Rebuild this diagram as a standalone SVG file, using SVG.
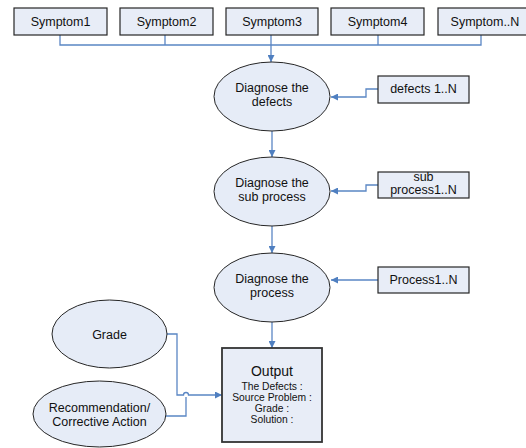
<svg xmlns="http://www.w3.org/2000/svg" width="526" height="448" viewBox="0 0 526 448">
<defs>
<marker id="arr" viewBox="0 0 10 10" refX="10" refY="5" markerWidth="7" markerHeight="7" markerUnits="userSpaceOnUse" orient="auto">
<path d="M0,0 L10,5 L0,10 z" fill="#4F7FC0"/>
</marker>
<style>
.box{fill:#E8EDF7;stroke:#262626;stroke-width:1.2}
.ell{fill:#E6ECF7;stroke:#262626;stroke-width:1}
.out{fill:#E8EDF7;stroke:#333;stroke-width:1.8}
.t{font-family:"Liberation Sans",Arial,sans-serif;font-size:12.5px;fill:#111;text-anchor:middle}
.s{font-family:"Liberation Sans",Arial,sans-serif;font-size:10.3px;fill:#111;text-anchor:middle}
.o{font-family:"Liberation Sans",Arial,sans-serif;font-size:14px;fill:#111;text-anchor:middle}
.c{fill:none;stroke:#5A86C4;stroke-width:1.3}
</style>
</defs>
<rect width="526" height="448" fill="#fff"/>
<g id="connectors">
<path class="c" d="M60,35 V45 H481 V35 M165,35 V45 M378,35 V45"/>
<path class="c" d="M271,35 V62" marker-end="url(#arr)"/>
<path class="c" d="M272,131 V157" marker-end="url(#arr)"/>
<path class="c" d="M272,226 V253" marker-end="url(#arr)"/>
<path class="c" d="M272,322 V348" marker-end="url(#arr)"/>
<path class="c" d="M378,89 H366 V97 H331" marker-end="url(#arr)"/>
<path class="c" d="M378,185 H366 V191 H331" marker-end="url(#arr)"/>
<path class="c" d="M378,280 H331" marker-end="url(#arr)"/>
<path class="c" d="M166,334 H177 V395 H183.5 A2.5,2.5 0 0 1 188.5,395 H222" marker-end="url(#arr)"/>
<path class="c" d="M166,416 H186 V397"/>
</g>
<g id="symptom1"><rect class="box" x="14" y="8" width="93" height="27"/><text class="t" x="60.5" y="25.5">Symptom1</text></g>
<g id="symptom2"><rect class="box" x="120" y="8" width="93" height="27"/><text class="t" x="166.5" y="25.5">Symptom2</text></g>
<g id="symptom3"><rect class="box" x="226" y="8" width="92" height="27"/><text class="t" x="272" y="25.5">Symptom3</text></g>
<g id="symptom4"><rect class="box" x="331" y="8" width="93" height="27"/><text class="t" x="377.5" y="25.5">Symptom4</text></g>
<g id="symptomN"><rect class="box" x="438" y="8" width="94" height="27"/><text class="t" x="485" y="25.5">Symptom..N</text></g>
<g id="diag-defects"><ellipse class="ell" cx="272" cy="96.5" rx="58" ry="34.5"/><text class="t" x="272" y="92">Diagnose the</text><text class="t" x="272" y="106">defects</text></g>
<g id="defects"><rect class="box" x="378" y="76" width="91" height="27"/><text class="t" x="423.5" y="93">defects 1..N</text></g>
<g id="diag-sub"><ellipse class="ell" cx="272" cy="191.5" rx="58" ry="34.5"/><text class="t" x="272" y="187">Diagnose the</text><text class="t" x="272" y="201">sub process</text></g>
<g id="subprocess"><rect class="box" x="378" y="172" width="91" height="26"/><text class="t" x="423.5" y="181">sub</text><text class="t" x="423.5" y="194">process1..N</text></g>
<g id="diag-process"><ellipse class="ell" cx="272" cy="287.5" rx="58" ry="34.5"/><text class="t" x="272" y="283">Diagnose the</text><text class="t" x="272" y="297">process</text></g>
<g id="process"><rect class="box" x="378" y="267" width="91" height="26"/><text class="t" x="423.5" y="284">Process1..N</text></g>
<g id="grade"><ellipse class="ell" cx="109.5" cy="334" rx="57.5" ry="34"/><text class="t" x="109.5" y="338.5">Grade</text></g>
<g id="recommendation"><ellipse class="ell" cx="99.5" cy="414" rx="66.5" ry="33"/><text class="t" x="99.5" y="412">Recommendation/</text><text class="t" x="99.5" y="425.5">Corrective Action</text></g>
<g id="output"><rect class="out" x="222" y="348" width="100" height="94"/>
<text class="o" x="272" y="375.5">Output</text>
<text class="s" x="272" y="389.5">The Defects :</text>
<text class="s" x="272" y="401">Source Problem :</text>
<text class="s" x="272" y="412">Grade  :</text>
<text class="s" x="272" y="422.5">Solution :</text>
</g>
</svg>
